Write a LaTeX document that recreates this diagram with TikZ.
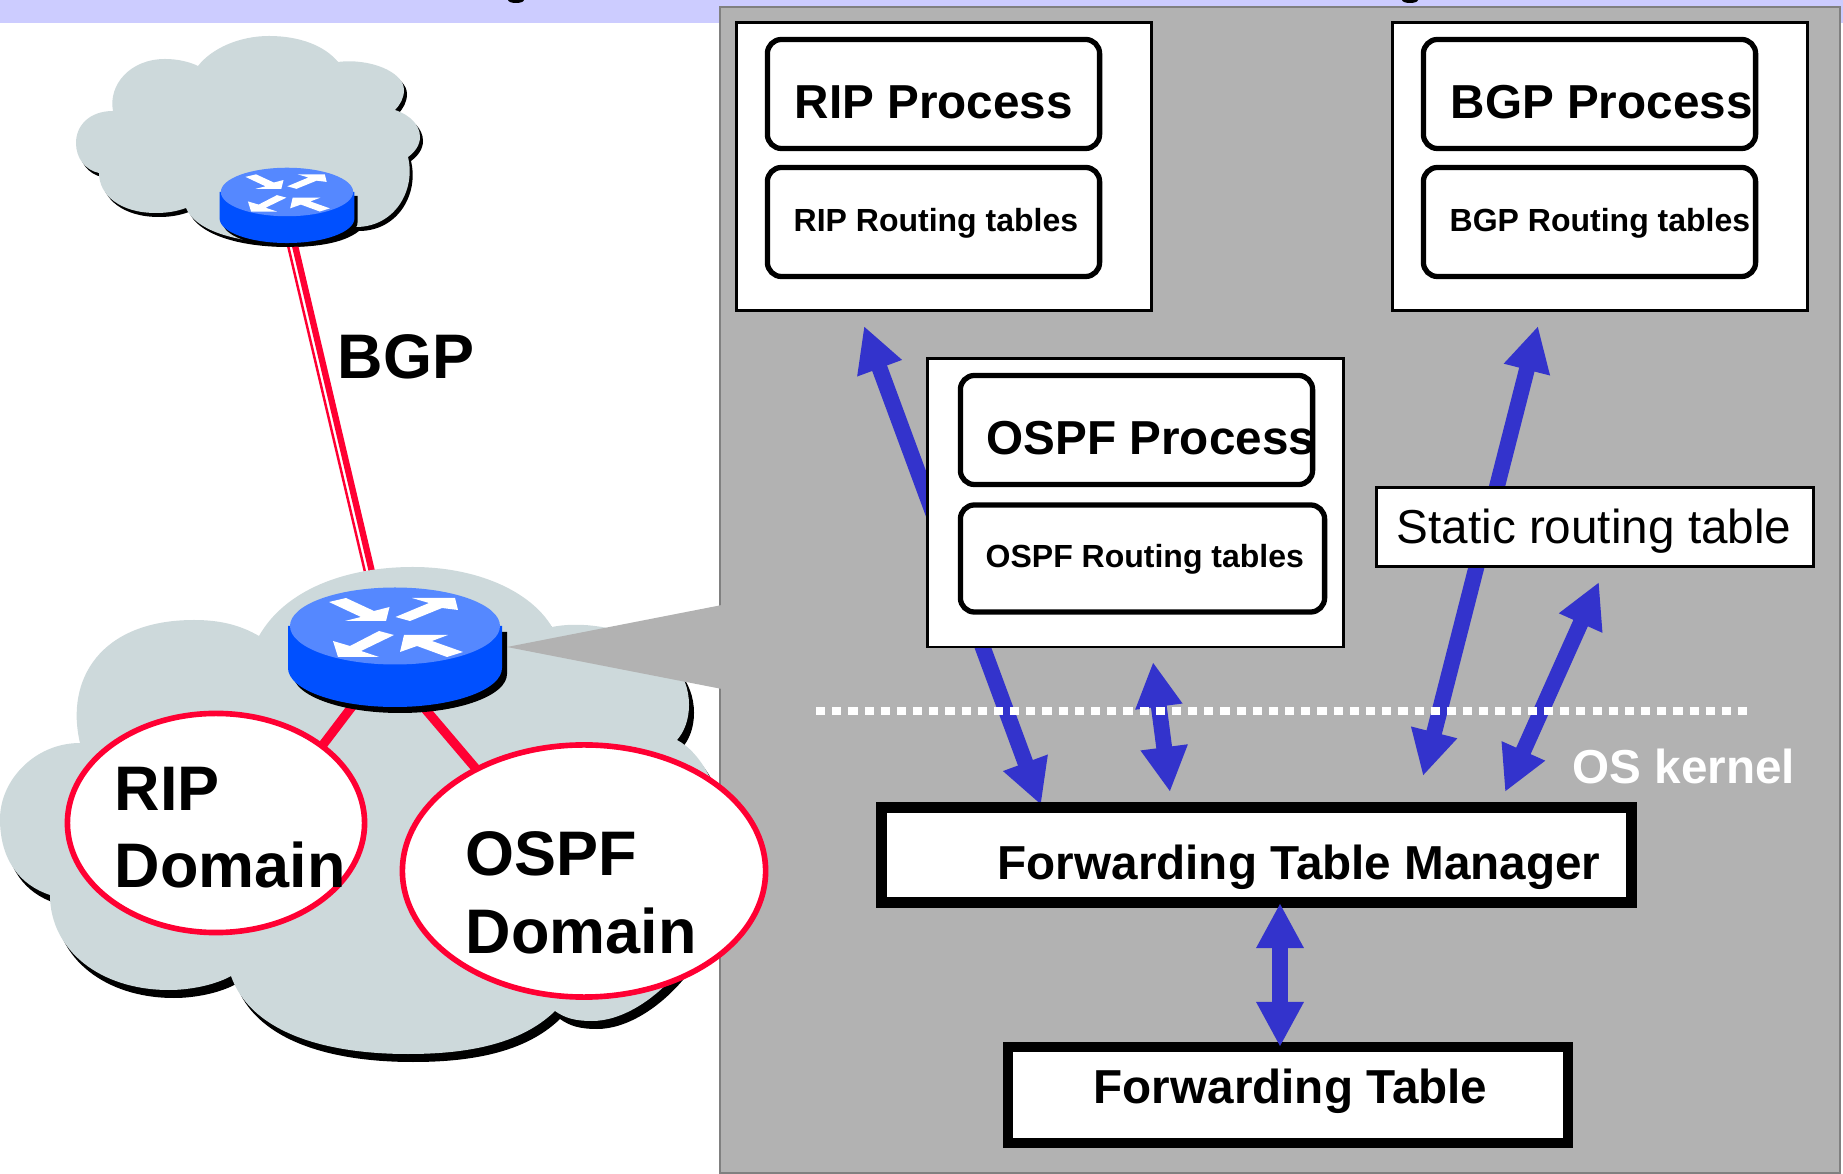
\documentclass[tikz,border=0pt]{standalone}
\usepackage{tikz}
\usepackage{xcolor}
\usepackage{fontspec}
\usetikzlibrary{arrows.meta}
\usetikzlibrary{shapes.geometric}
\setmainfont{Liberation Sans}

\definecolor{bandblue}{HTML}{CCCCFF}
\definecolor{panelgray}{HTML}{B2B2B2}
\definecolor{cloudgray}{HTML}{CDD9DB}
\definecolor{linkred}{HTML}{FF0033}
\definecolor{arrowblue}{HTML}{3333CC}
\definecolor{routertop}{HTML}{5588FF}
\definecolor{routerbody}{HTML}{0050FF}

\tikzset{
  boxtext/.style={font=\bfseries\fontsize{13.55}{16}\selectfont,inner sep=0pt,anchor=base west},
  tabletext/.style={font=\bfseries\fontsize{9.1}{11}\selectfont,inner sep=0pt,anchor=base west},
  bigtext/.style={font=\bfseries\fontsize{17.9}{22.1}\selectfont,inner sep=0pt,anchor=base west,align=left},
  outerbox/.style={draw=black,fill=white,line width=0.8pt,inner sep=0pt,minimum width=4.15cm,minimum height=2.88cm},
  procbox/.style={draw=black,fill=white,line width=1.5pt,rounded corners=4pt,inner sep=0pt},
  fwdbox/.style={draw=black,fill=white,inner sep=0pt},
  domainoval/.style={ellipse,draw=linkred,fill=white,line width=1.6pt,inner sep=0pt},
  redlink/.style={linkred,line width=2.6pt},
  bluearrow/.style={arrowblue,line width=4.5pt,{Triangle[length=12.8pt,width=12.6pt]}-{Triangle[length=12.8pt,width=12.6pt]}},
}

% cloud outlines, in pixels of the picture
\newcommand{\smallcloudpath}{(198,66) .. controls (212,48) and (240,36) .. (269,36)
  .. controls (300,36) and (325,46) .. (338,62)
  .. controls (370,58) and (404,72) .. (404,90) .. controls (404,98) and (400,105) .. (395,110)
  .. controls (410,115) and (420,125) .. (420,137) .. controls (420,145) and (415,152) .. (408,157)
  .. controls (416,190) and (395,227) .. (356,227)
  .. controls (340,240) and (310,243) .. (285,243) .. controls (235,243) and (195,230) .. (186,208)
  .. controls (175,212) and (165,213) .. (156,213) .. controls (120,213) and (99,195) .. (99,173)
  .. controls (85,170) and (76,158) .. (76,143) .. controls (76,125) and (90,111) .. (113,111)
  .. controls (108,85) and (130,59) .. (165,59) .. controls (178,59) and (190,62) .. (198,66) -- cycle}
\newcommand{\bigcloudpath}{(259,636) .. controls (285,590) and (345,567) .. (413,567)
  .. controls (475,567) and (530,590) .. (552,627)
  .. controls (600,617) and (689,640) .. (689,705) .. controls (689,720) and (684,732) .. (677,740)
  .. controls (700,752) and (725,790) .. (725,850)
  .. controls (725,940) and (650,1021) .. (592,1021) .. controls (575,1021) and (565,1018) .. (555,1011)
  .. controls (520,1045) and (465,1054) .. (408,1054) .. controls (320,1054) and (250,1030) .. (231,976)
  .. controls (215,985) and (190,990) .. (169,990) .. controls (100,990) and (50,950) .. (50,895)
  .. controls (20,885) and (0,860) .. (0,819) .. controls (0,780) and (35,743) .. (80,743)
  .. controls (65,680) and (100,620) .. (194,620) .. controls (220,620) and (240,625) .. (259,636) -- cycle}

% router: name, centre of its top face, scale
\newcommand{\drawrouter}[3]{
  \coordinate (#1) at (#2);
  \begin{scope}[shift={(#2)},scale=#3]
    \fill[black,shift={(5,6)}] (-107,0) -- (-107,42) arc[start angle=180,end angle=0,x radius=107,y radius=39] -- (107,0) -- cycle;
    \fill[routerbody] (-107,0) -- (-107,42) arc[start angle=180,end angle=0,x radius=107,y radius=39] -- (107,0) -- cycle;
    \fill[routertop] (0,0) ellipse[x radius=105,y radius=38.5];
    \fill[white] (-66,-24) -- (-49,-28) -- (-21,-15) -- (-5.5,-19) -- (-9,-5) -- (-50,-5) -- (-34,-9) -- cycle;
    \fill[white] (0.5,-9) -- (15,-5) -- (47,-18) -- (63,-16) -- (60,-28) -- (17,-28) -- (34,-23) -- cycle;
    \fill[white] (-16,5) -- (-1,9) -- (-34,25) -- (-16,31) -- (-57,31) -- (-62,15) -- (-45,20) -- cycle;
    \fill[white] (68,26) -- (52,31) -- (22,20) -- (5,26) -- (9,9) -- (53,9) -- (37,15) -- cycle;
  \end{scope}
}

\begin{document}
\begin{tikzpicture}[x=0.01cm,y=-0.01cm]
  \useasboundingbox (0,0) rectangle (1843,1174);

  % title band
  \fill[bandblue] (0,0) rectangle (1843,23);
  \fill[black] (516,0) ellipse[x radius=8,y radius=3];
  \fill[black] (1410,0) ellipse[x radius=8,y radius=3];

  % small cloud with its router
  \fill[black,shift={(3,4)}] \smallcloudpath;
  \fill[cloudgray] \smallcloudpath;
  \coordinate (bgpa) at (282,220);
  \coordinate (bgpb) at (365,572);
  \coordinate (bgpc) at (289,220);
  \coordinate (bgpd) at (372,572);
  \draw[linkred,line width=0.7pt] (bgpa) -- (bgpb);
  \draw[linkred,line width=1.8pt] (bgpc) -- (bgpd);
  \drawrouter{smallrouter}{287,192}{0.63}
  \node[bigtext] (bgplabel) at (337,379) {BGP};

  % big cloud
  \fill[black,shift={(5,8)}] \bigcloudpath;
  \fill[cloudgray] \bigcloudpath;

  % grey panel and its pointer
  \fill[panelgray,draw=gray,line width=0.6pt] (720,7) rectangle (1840,1173);
  \fill[panelgray] (507,647) -- (722,605) -- (722,689) -- cycle;

  % links and domains
  \coordinate (ripa) at (395,650);
  \coordinate (ripb) at (300,775);
  \coordinate (ospfa) at (375,650);
  \coordinate (ospfb) at (500,797);
  \draw[redlink] (ripa) -- (ripb);
  \draw[redlink] (ospfa) -- (ospfb);
  \drawrouter{bigrouter}{395,626}{1}
  \node[domainoval,minimum width=2.97cm,minimum height=2.19cm] (rip) at (216,823) {};
  \node[domainoval,minimum width=3.63cm,minimum height=2.52cm] (ospf) at (584,871) {};
  \node[bigtext] (riptext) at (114,888) {RIP\\Domain};
  \node[bigtext] (ospftext) at (465,953) {OSPF\\Domain};

  % arrows that run behind the boxes
  \coordinate (ripend) at (864,326);
  \coordinate (ripkernel) at (1041,805);
  \coordinate (bgpend) at (1538,326);
  \coordinate (bgpkernel) at (1423,776);
  \draw[bluearrow] (ripend) -- (ripkernel);
  \draw[bluearrow] (bgpend) -- (bgpkernel);

  \node[outerbox] (ripbox) at (944,166.5) {};
  \node[outerbox] (bgpbox) at (1600,166.5) {};
  \node[outerbox] (ospfbox) at (1135.5,503) {};

  \node[procbox,minimum width=3.32cm,minimum height=1.09cm] (ripproc) at (933.5,94) {};
  \node[procbox,minimum width=3.32cm,minimum height=1.09cm] (riptable) at (933.5,222) {};
  \node[procbox,minimum width=3.32cm,minimum height=1.09cm] (bgpproc) at (1589.5,94) {};
  \node[procbox,minimum width=3.32cm,minimum height=1.09cm] (bgptable) at (1589.5,222) {};
  \node[procbox,minimum width=3.52cm,minimum height=1.09cm] (ospfproc) at (1136.5,430) {};
  \node[procbox,minimum width=3.64cm,minimum height=1.07cm] (ospftable) at (1142.5,558.5) {};

  \node[boxtext] (riptitle) at (794,119) {RIP Process};
  \node[tabletext] (ripname) at (793,232) {RIP Routing tables};
  \node[boxtext] (bgptitle) at (1450,119) {BGP Process};
  \node[tabletext] (bgpname) at (1449,232) {BGP Routing tables};
  \node[boxtext] (ospftitle) at (986,455) {OSPF Process};
  \node[tabletext] (ospfname) at (985,568) {OSPF Routing tables};

  \node[draw=black,fill=white,line width=0.8pt,inner sep=0pt,minimum width=4.37cm,minimum height=0.79cm] (static) at (1595,527) {};
  \node[boxtext,font=\fontsize{13.55}{16}\selectfont] (statictext) at (1396,544) {Static routing table};

  \node[fwdbox,line width=3.1pt,minimum width=7.50cm,minimum height=0.95cm] (ftm) at (1256.5,855) {};
  \node[fwdbox,line width=2.85pt,minimum width=5.60cm,minimum height=0.96cm] (ft) at (1288,1095) {};
  \node[boxtext] (ftmtext) at (997,880) {Forwarding Table Manager};
  \node[boxtext] (fttext) at (1093,1103) {Forwarding Table};

  % remaining arrows, the kernel line goes over them
  \coordinate (ospfend) at (1153,662);
  \coordinate (ospfkernel) at (1170,792);
  \coordinate (staticend) at (1599,582);
  \coordinate (statickernel) at (1505,792);
  \coordinate (ftmend) at (1280,903);
  \coordinate (ftend) at (1280,1047);
  \draw[bluearrow] (ospfend) -- (ospfkernel);
  \draw[bluearrow] (staticend) -- (statickernel);
  \draw[bluearrow] (ftmend) -- (ftend);

  \coordinate (kernela) at (816,711);
  \coordinate (kernelb) at (1753,711);
  \draw[white,line width=2.2pt,dash pattern=on 2.6pt off 2pt] (kernela) -- (kernelb);
  \node[boxtext,text=white] (kerneltext) at (1572,784) {OS kernel};
\end{tikzpicture}
\end{document}
